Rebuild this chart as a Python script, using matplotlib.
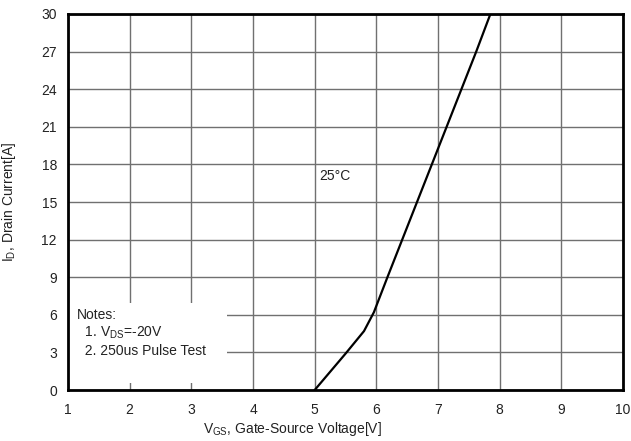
import numpy as np
import matplotlib
matplotlib.use('Agg')
import matplotlib.pyplot as plt
from matplotlib.patches import Rectangle

# transfer characteristic
vgs = [5.0, 5.25, 5.5, 5.8, 5.96, 6.07, 6.18, 6.42, 6.66, 6.90, 7.14, 7.38, 7.62, 7.85]
i_d = [0.0, 1.45, 2.9, 4.7, 6.2, 7.6, 9.0, 12.0, 15.0, 18.0, 21.0, 24.0, 27.0, 30.0]

x_ticks = list(range(1, 11))
y_ticks = list(range(0, 31, 3))

notes = ['Notes:', r'  1. V$_\mathregular{DS}$=-20V', '  2. 250us Pulse Test']

plt.rcParams['font.family'] = ['Liberation Sans', 'DejaVu Sans']
plt.rcParams['font.size'] = 10
plt.rcParams['mathtext.default'] = 'regular'

fig = plt.figure(figsize=(6.31, 4.41), dpi=100)
ax = fig.add_axes([0.1078, 0.1156, 0.8795, 0.8527])

ax.plot(vgs, i_d, color='black', lw=1.6, zorder=4)

ax.set_xlim(1, 10)
ax.set_ylim(0, 30)
ax.set_xticks(x_ticks)
ax.set_yticks(y_ticks)
ax.tick_params(length=0, labelsize=10, colors='#222222')
ax.tick_params(axis='x', pad=9)
ax.tick_params(axis='y', pad=8)
ax.grid(True, color='#707070', lw=1.0)

for s in ax.spines.values():
    s.set_linewidth(2.0)
    s.set_color('black')
    s.set_zorder(5)

# white box behind the notes hides the grid
ax.add_patch(Rectangle((1, 0.55), 2.58, 6.4, facecolor='white', edgecolor='none', zorder=2))

ax.text(1.14, 6.0, notes[0], ha='left', va='center', fontsize=10, zorder=6, color='#222222')
ax.text(1.14, 4.55, notes[1], ha='left', va='center', fontsize=10, zorder=6, color='#222222')
ax.text(1.14, 3.1, notes[2], ha='left', va='center', fontsize=10, zorder=6, color='#222222')

ax.text(5.07, 17.1, '25°C', ha='left', va='center', fontsize=10, color='#222222')

ax.set_xlabel(r'V$_\mathregular{GS}$, Gate-Source Voltage[V]', fontsize=10, color='#222222')
ax.xaxis.set_label_coords(0.405, -0.08)
ax.set_ylabel(r'I$_\mathregular{D}$, Drain Current[A]', fontsize=10, color='#222222')
ax.yaxis.set_label_coords(-0.09, 0.5)

fig.savefig('out.png', dpi=100)
